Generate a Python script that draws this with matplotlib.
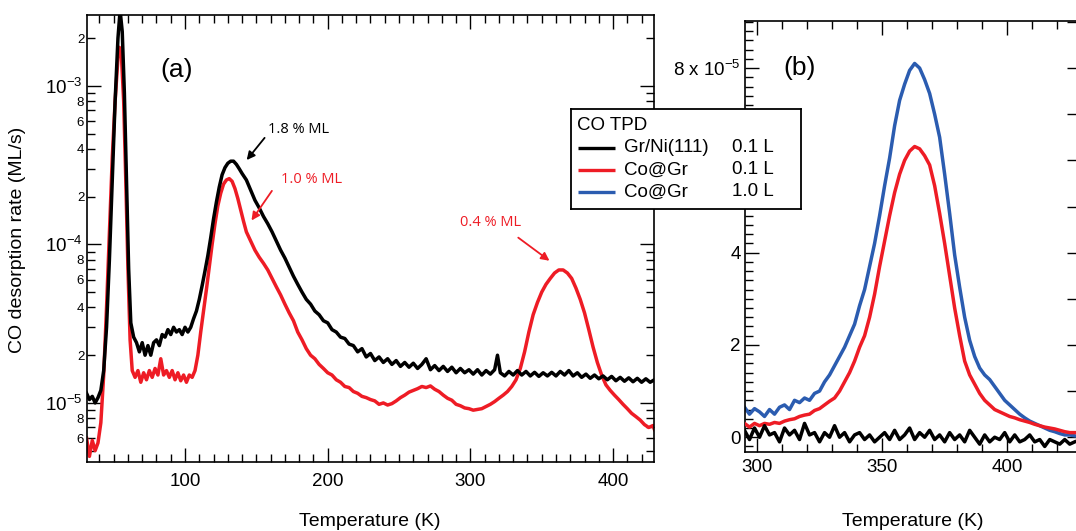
import numpy as np
import matplotlib
matplotlib.use("Agg")
import matplotlib.pyplot as plt
from matplotlib.ticker import LogLocator, FuncFormatter, MultipleLocator, NullFormatter

plt.rcParams['font.family'] = ['Liberation Sans', 'DejaVu Sans']
plt.rcParams['mathtext.default'] = 'regular'

# ---------------- data: panel (a) (log scale, ML/s) ----------------
T_black_a = [31, 33, 35, 37, 39, 41, 43, 45, 47, 49, 51, 53, 54.5, 56, 57.5, 59, 60.5, 62, 64, 66,
             68, 70, 72, 74, 76, 78, 80, 82, 84, 86, 88, 90, 92, 94, 96, 98, 100, 102, 104, 106,
             108, 110, 112, 114, 116, 118, 120, 122, 124, 126, 128, 130, 132, 134, 136, 138, 140, 143, 146, 149,
             152, 155, 158, 161, 164, 167, 170, 173, 176, 179, 182, 185, 188, 191, 194, 197, 200, 203, 206, 209,
             212, 215, 218, 221, 224, 227, 230, 233, 236, 239, 242, 245, 248, 251, 254, 257, 260, 263, 266, 269,
             272, 275, 278, 281, 284, 287, 290, 293, 296, 299, 302, 305, 308, 311, 314, 317, 319, 321, 324, 327,
             330, 333, 336, 339, 342, 345, 348, 351, 354, 357, 360, 363, 366, 369, 372, 375, 378, 381, 384, 387,
             390, 393, 396, 399, 402, 405, 408, 411, 414, 417, 420, 423, 426, 429]
rate_black_a = [1.15e-5, 1.05e-5, 1.1e-5, 1.0e-5, 1.08e-5, 1.2e-5, 1.6e-5, 3.0e-5, 8e-5, 2.5e-4, 8e-4, 2.0e-3, 3.0e-3, 2.2e-3, 9e-4, 2.5e-4, 7e-5, 3.2e-5, 2.6e-5, 2.4e-5,
                2.1e-5, 2.4e-5, 2.0e-5, 2.3e-5, 2.0e-5, 2.4e-5, 2.5e-5, 2.3e-5, 2.7e-5, 2.6e-5, 2.9e-5, 2.7e-5, 3.0e-5, 2.8e-5, 2.9e-5, 2.7e-5, 3.0e-5, 2.8e-5, 3.0e-5, 3.4e-5,
                3.8e-5, 4.5e-5, 5.5e-5, 6.8e-5, 8.5e-5, 1.1e-4, 1.45e-4, 1.85e-4, 2.3e-4, 2.75e-4, 3.05e-4, 3.25e-4, 3.35e-4, 3.35e-4, 3.2e-4, 3.0e-4, 2.8e-4, 2.55e-4, 2.2e-4, 1.9e-4,
                1.7e-4, 1.5e-4, 1.35e-4, 1.2e-4, 1.05e-4, 9.2e-5, 8.2e-5, 7.2e-5, 6.3e-5, 5.6e-5, 5.0e-5, 4.5e-5, 4.2e-5, 3.8e-5, 3.6e-5, 3.3e-5, 3.2e-5, 2.9e-5, 2.8e-5, 2.6e-5,
                2.55e-5, 2.35e-5, 2.3e-5, 2.1e-5, 2.2e-5, 1.95e-5, 2.05e-5, 1.85e-5, 1.95e-5, 1.8e-5, 1.9e-5, 1.75e-5, 1.85e-5, 1.7e-5, 1.8e-5, 1.68e-5, 1.78e-5, 1.65e-5, 1.75e-5, 1.9e-5,
                1.62e-5, 1.72e-5, 1.6e-5, 1.7e-5, 1.58e-5, 1.68e-5, 1.55e-5, 1.65e-5, 1.55e-5, 1.62e-5, 1.52e-5, 1.62e-5, 1.5e-5, 1.6e-5, 1.52e-5, 1.62e-5, 2.0e-5, 1.55e-5, 1.48e-5, 1.58e-5,
                1.5e-5, 1.6e-5, 1.5e-5, 1.58e-5, 1.48e-5, 1.56e-5, 1.47e-5, 1.55e-5, 1.48e-5, 1.56e-5, 1.48e-5, 1.58e-5, 1.5e-5, 1.6e-5, 1.48e-5, 1.55e-5, 1.45e-5, 1.52e-5, 1.43e-5, 1.5e-5,
                1.42e-5, 1.48e-5, 1.4e-5, 1.47e-5, 1.38e-5, 1.45e-5, 1.37e-5, 1.44e-5, 1.36e-5, 1.43e-5, 1.35e-5, 1.42e-5, 1.35e-5, 1.4e-5]

T_red_a = [31, 33, 35, 37, 39, 41, 43, 45, 47, 49, 51, 53, 54, 55.5, 57, 58.5, 60, 61.5, 63, 65,
           67, 69, 71, 73, 75, 77, 79, 81, 83, 85, 87, 89, 91, 93, 95, 97, 99, 101, 103, 105,
           107, 109, 111, 113, 115, 117, 119, 121, 123, 125, 127, 129, 131, 133, 135, 137, 139, 141, 143, 146,
           149, 152, 155, 158, 161, 164, 167, 170, 173, 176, 179, 182, 185, 188, 191, 194, 197, 200, 203, 206,
           209, 212, 215, 218, 221, 224, 227, 230, 233, 236, 239, 242, 245, 248, 251, 254, 257, 260, 263, 266,
           269, 272, 275, 278, 281, 284, 287, 290, 293, 296, 299, 302, 305, 308, 311, 314, 317, 320, 323, 326,
           329, 332, 335, 338, 341, 344, 347, 350, 353, 356, 359, 362, 365, 368, 371, 374, 377, 380, 383, 386,
           389, 392, 395, 398, 401, 404, 407, 410, 413, 416, 419, 422, 425, 428, 429]
rate_red_a = [6.0e-6, 4.6e-6, 5.8e-6, 5.0e-6, 5.6e-6, 7.5e-6, 1.5e-5, 4e-5, 1.2e-4, 3.5e-4, 8e-4, 1.5e-3, 1.75e-3, 1.5e-3, 8e-4, 2.5e-4, 7e-5, 2.5e-5, 1.6e-5, 1.45e-5,
              1.6e-5, 1.35e-5, 1.55e-5, 1.4e-5, 1.6e-5, 1.45e-5, 1.65e-5, 1.5e-5, 1.9e-5, 1.5e-5, 1.6e-5, 1.45e-5, 1.6e-5, 1.4e-5, 1.55e-5, 1.38e-5, 1.5e-5, 1.35e-5, 1.5e-5, 1.45e-5,
              1.6e-5, 2.0e-5, 2.8e-5, 3.8e-5, 5.2e-5, 7.2e-5, 1.0e-4, 1.35e-4, 1.75e-4, 2.1e-4, 2.4e-4, 2.55e-4, 2.6e-4, 2.5e-4, 2.25e-4, 1.95e-4, 1.65e-4, 1.4e-4, 1.2e-4, 1.05e-4,
              9.2e-5, 8.3e-5, 7.6e-5, 6.9e-5, 6.1e-5, 5.4e-5, 4.8e-5, 4.2e-5, 3.7e-5, 3.3e-5, 2.8e-5, 2.5e-5, 2.2e-5, 2.0e-5, 1.9e-5, 1.75e-5, 1.65e-5, 1.55e-5, 1.5e-5, 1.4e-5,
              1.35e-5, 1.27e-5, 1.25e-5, 1.18e-5, 1.15e-5, 1.1e-5, 1.08e-5, 1.05e-5, 1.03e-5, 9.8e-6, 1.0e-5, 9.7e-6, 9.9e-6, 1.03e-5, 1.08e-5, 1.12e-5, 1.17e-5, 1.2e-5, 1.23e-5, 1.27e-5,
              1.25e-5, 1.28e-5, 1.22e-5, 1.18e-5, 1.12e-5, 1.07e-5, 1.04e-5, 9.8e-6, 9.6e-6, 9.3e-6, 9.2e-6, 9.0e-6, 9.1e-6, 9.2e-6, 9.5e-6, 9.8e-6, 1.02e-5, 1.07e-5, 1.12e-5, 1.18e-5,
              1.27e-5, 1.4e-5, 1.65e-5, 2.1e-5, 2.8e-5, 3.6e-5, 4.3e-5, 5.0e-5, 5.6e-5, 6.1e-5, 6.6e-5, 6.9e-5, 6.9e-5, 6.6e-5, 6.1e-5, 5.3e-5, 4.5e-5, 3.7e-5, 2.9e-5, 2.25e-5,
              1.8e-5, 1.5e-5, 1.3e-5, 1.2e-5, 1.12e-5, 1.05e-5, 9.8e-6, 9.2e-6, 8.6e-6, 8.2e-6, 7.8e-6, 7.3e-6, 7.0e-6, 7.2e-6, 6.8e-6]

# ---------------- data: panel (b) (linear, units of 1e-5 ML/s) ----------------
T_b = [295, 297, 299, 301, 303, 305, 307, 309, 311, 313, 315, 317, 319, 321, 323, 325, 327, 329, 331, 333,
       335, 337, 339, 341, 343, 345, 347, 349, 351, 353, 355, 357, 359, 361, 363, 365, 367, 369, 371, 373,
       375, 377, 379, 381, 383, 385, 387, 389, 391, 393, 395, 397, 399, 401, 403, 405, 407, 409, 411, 413,
       415, 417, 419, 421, 423, 425, 427]
rate_blue_b = [0.65, 0.5, 0.62, 0.55, 0.45, 0.6, 0.5, 0.65, 0.7, 0.6, 0.8, 0.75, 0.85, 0.8, 0.95, 1.0, 1.2, 1.35, 1.55, 1.75,
               1.95, 2.2, 2.45, 2.85, 3.2, 3.7, 4.2, 4.8, 5.45, 6.05, 6.75, 7.3, 7.65, 7.95, 8.1, 8.0, 7.75, 7.45, 7.0, 6.5,
               5.7, 4.85, 3.95, 3.25, 2.6, 2.1, 1.75, 1.5, 1.35, 1.25, 1.1, 0.95, 0.8, 0.7, 0.6, 0.5, 0.42, 0.35, 0.3, 0.25,
               0.2, 0.15, 0.12, 0.08, 0.05, 0.05, 0.03]
rate_red_b = [0.3, 0.22, 0.3, 0.25, 0.3, 0.28, 0.32, 0.3, 0.35, 0.38, 0.4, 0.45, 0.48, 0.5, 0.58, 0.62, 0.7, 0.78, 0.85, 1.0,
              1.2, 1.4, 1.65, 1.95, 2.2, 2.6, 3.1, 3.7, 4.25, 4.8, 5.3, 5.7, 6.0, 6.2, 6.3, 6.25, 6.1, 5.9, 5.45, 4.85,
              4.2, 3.5, 2.8, 2.2, 1.65, 1.35, 1.15, 0.95, 0.8, 0.7, 0.6, 0.55, 0.5, 0.45, 0.42, 0.38, 0.35, 0.32, 0.28, 0.25,
              0.22, 0.2, 0.18, 0.15, 0.12, 0.1, 0.1]
rate_black_b = [0.15, -0.05, 0.2, 0.0, 0.25, 0.05, 0.1, -0.1, 0.2, 0.05, 0.15, -0.05, 0.3, 0.05, 0.1, -0.1, 0.1, 0.0, 0.25, 0.0,
                0.1, -0.1, 0.05, 0.1, -0.05, 0.05, -0.1, 0.0, 0.1, -0.05, 0.15, -0.05, 0.05, 0.2, -0.05, 0.1, 0.0, 0.15, -0.05, 0.05,
                -0.1, 0.1, -0.05, 0.05, -0.1, 0.15, 0.0, -0.15, 0.05, -0.1, 0.0, -0.05, 0.1, -0.1, 0.05, -0.1, -0.05, 0.05, -0.1, -0.05,
                -0.2, -0.05, -0.1, -0.15, -0.05, -0.15, -0.1]

legend_names = ["Gr/Ni(111)", "Co@Gr", "Co@Gr"]
legend_doses = ["0.1 L", "0.1 L", "1.0 L"]

BLACK = "#000000"
RED = "#ee1c25"
BLUE = "#2b5cb0"
LW = 2.5

W, H = 1076, 531
fig = plt.figure(figsize=(W / 100, H / 100), dpi=100)

def px_axes(l, t, r, b):
    return fig.add_axes([l / W, 1 - b / H, (r - l) / W, (b - t) / H])

def style_ticks(ax):
    ax.tick_params(which='both', direction='in', top=True, right=True, width=1.0)
    ax.tick_params(which='major', length=10, labelsize=13.5)
    ax.tick_params(which='minor', length=5.8)
    for s in ax.spines.values():
        s.set_linewidth(1.2)

# ---------------- panel (a) ----------------
axA = px_axes(87, 15, 654, 462)
axA.plot(T_red_a, rate_red_a, color=RED, lw=LW, zorder=2)
axA.plot(T_black_a, rate_black_a, color=BLACK, lw=LW, zorder=3)
axA.set_yscale('log')
axA.set_xlim(31.3, 428.7)
axA.set_ylim(4.24e-6, 2.8e-3)
axA.xaxis.set_major_locator(MultipleLocator(100))
axA.xaxis.set_minor_locator(MultipleLocator(10))
axA.yaxis.set_major_locator(LogLocator(base=10))
axA.yaxis.set_minor_locator(LogLocator(base=10, subs=np.arange(2, 10)))

def major_fmt(v, pos):
    e = int(round(np.log10(v)))
    return r'$\mathregular{10^{%d}}$' % e

def minor_fmt(v, pos):
    e = np.floor(np.log10(v) + 1e-9)
    m = int(round(v / 10 ** e))
    return str(m) if m in (2, 4, 6, 8) else ''

axA.yaxis.set_major_formatter(FuncFormatter(major_fmt))
axA.yaxis.set_minor_formatter(FuncFormatter(minor_fmt))
style_ticks(axA)
axA.tick_params(axis='y', which='minor', labelsize=9.5, pad=2)
axA.tick_params(axis='y', which='major', pad=3)
axA.tick_params(axis='x', which='major', pad=8)

axA.text(0.129, 0.877, "(a)", transform=axA.transAxes, fontsize=19, va='center', ha='left')

ann_font = dict(family=['Open Sans', 'DejaVu Sans'], fontsize=10.5)
axA.text(158, 5.27e-4, "1.8 % ML", color=BLACK, va='center', ha='left', **ann_font)
axA.annotate('', xy=(142, 3.3e-4), xytext=(157, 4.85e-4),
             arrowprops=dict(arrowstyle='-|>', color=BLACK, lw=1.3, mutation_scale=12))
axA.text(167, 2.55e-4, "1.0 % ML", color=RED, va='center', ha='left', **ann_font)
axA.annotate('', xy=(145.5, 1.37e-4), xytext=(162, 2.25e-4),
             arrowprops=dict(arrowstyle='-|>', color=RED, lw=1.3, mutation_scale=12))
axA.text(293, 1.37e-4, "0.4 % ML", color=RED, va='center', ha='left', **ann_font)
axA.annotate('', xy=(357, 7.7e-5), xytext=(332, 1.13e-4),
             arrowprops=dict(arrowstyle='-|>', color=RED, lw=1.3, mutation_scale=12))

# ---------------- panel (b) ----------------
axB = px_axes(745, 21, 1077, 452)
axB.plot(T_b, rate_blue_b, color=BLUE, lw=LW, zorder=2)
axB.plot(T_b, rate_red_b, color=RED, lw=LW, zorder=3)
axB.plot(T_b, rate_black_b, color=BLACK, lw=LW, zorder=4)
axB.set_xlim(295.2, 427.9)
axB.set_ylim(-0.32, 9.02)
axB.xaxis.set_major_locator(MultipleLocator(50))
axB.xaxis.set_minor_locator(MultipleLocator(10))
axB.yaxis.set_major_locator(MultipleLocator(2))
axB.yaxis.set_minor_locator(MultipleLocator(0.2))

def lin_fmt(v, pos):
    k = int(round(v))
    if k == 8:
        return r'8 x 10$^{-5}$'
    if k == 6:
        return ''  # hidden behind the legend box in the original
    return str(k)

axB.yaxis.set_major_formatter(FuncFormatter(lin_fmt))
style_ticks(axB)
axB.tick_params(axis='y', which='both', right=False)
axB.tick_params(axis='y', which='major', pad=3)
axB.tick_params(axis='x', which='major', pad=5)
sec = axB.secondary_yaxis('right')
sec.yaxis.set_major_locator(MultipleLocator(1))
sec.yaxis.set_major_formatter(NullFormatter())
sec.tick_params(direction='in', length=7, width=1.0)
axB.text(0.115, 0.891, "(b)", transform=axB.transAxes, fontsize=19, va='center', ha='left')

# ---------------- axis labels ----------------
fig.text(18 / W, 1 - 240 / H, "CO desorption rate (ML/s)", rotation=90, va='center', ha='center', fontsize=14)
fig.text(370 / W, 1 - 521 / H, "Temperature (K)", va='center', ha='center', fontsize=14)
fig.text(913 / W, 1 - 521 / H, "Temperature (K)", va='center', ha='center', fontsize=14)

# ---------------- legend box ----------------
axL = px_axes(571, 109, 801, 209)
axL.set_zorder(20)
axL.set_xlim(0, 1)
axL.set_ylim(0, 1)
axL.set_xticks([])
axL.set_yticks([])
for s in axL.spines.values():
    s.set_linewidth(1.3)
axL.text(0.026, 0.84, "CO TPD", va='center', ha='left', fontsize=13.5)
rows_y = [0.61, 0.39, 0.17]
for yy, c, name, dose in zip(rows_y, [BLACK, RED, BLUE], legend_names, legend_doses):
    axL.plot([0.03, 0.19], [yy, yy], color=c, lw=2.4, solid_capstyle='butt')
    axL.text(0.23, yy, name, va='center', ha='left', fontsize=13.5)
    axL.text(0.70, yy, dose, va='center', ha='left', fontsize=13.5)

fig.savefig("out.png", dpi=100)
